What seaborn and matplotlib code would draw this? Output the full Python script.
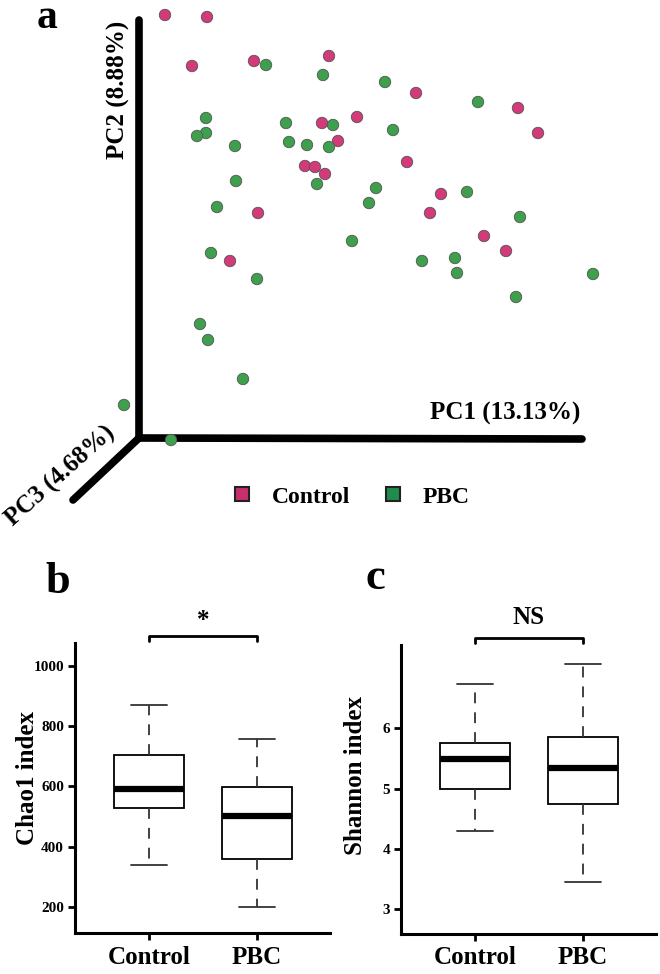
"""
plot.py
PCoA projection (a) and alpha-diversity boxplots (b, c) for Control vs PBC.
"""

import matplotlib
matplotlib.use("Agg")
import matplotlib.pyplot as plt
from matplotlib.lines import Line2D
import numpy as np
import pandas as pd
import seaborn as sns

sns.set_theme(style="white")
plt.rcParams["font.family"] = ["Liberation Serif", "DejaVu Serif"]
plt.rcParams["font.weight"] = "bold"
for key in ["text.color", "axes.labelcolor", "xtick.color", "ytick.color"]:
    plt.rcParams[key] = "black"

W, H = 660, 974

# projected PCoA positions (screen coordinates of the 3D view)
control_x = [165, 207, 192, 254, 329, 416, 518, 538, 322, 357, 338, 305, 315,
             325, 407, 441, 430, 484, 506, 258, 230]
control_y = [15, 17, 66, 61, 56, 93, 108, 133, 123, 117, 141, 166, 167,
             174, 162, 194, 213, 236, 251, 213, 261]
pbc_x = [266, 323, 385, 478, 206, 206, 197, 235, 286, 333, 289, 307, 329, 393,
         317, 236, 376, 369, 467, 217, 520, 352, 422, 455, 457, 593, 516, 211,
         257, 200, 208, 243, 124, 171]
pbc_y = [65, 75, 82, 102, 118, 133, 136, 146, 123, 125, 142, 145, 147, 130,
         184, 181, 188, 203, 192, 207, 217, 241, 261, 258, 273, 274, 297, 253,
         279, 324, 340, 379, 405, 440]

groups = ["Control", "PBC"]
# five-number summaries (min whisker, Q1, median, Q3, max whisker)
chao1_control = [338, 528, 591, 703, 870]
chao1_pbc = [200, 359, 502, 597, 757]
shannon_control = [4.29, 4.99, 5.485, 5.75, 6.74]
shannon_pbc = [3.45, 4.74, 5.335, 5.855, 7.06]

chao1_ticks = [200, 400, 600, 800, 1000]
shannon_ticks = [3, 4, 5, 6]

PINK = "#d23a7a"
GREEN = "#3ea04c"

fig = plt.figure(figsize=(W / 100, H / 100), dpi=100)

# ---- panel a ----
ax_a = fig.add_axes([0, 1 - 540 / H, 1, 540 / H])
pts = pd.DataFrame({
    "x": control_x + pbc_x,
    "y": control_y + pbc_y,
    "group": ["Control"] * len(control_x) + ["PBC"] * len(pbc_x),
})
sns.scatterplot(data=pts, x="x", y="y", hue="group", hue_order=groups,
                palette=[PINK, GREEN], s=68, edgecolor="#555555",
                linewidth=0.6, legend=False, ax=ax_a, zorder=3)
ax_a.set_xlim(0, W)
ax_a.set_ylim(540, 0)
ax_a.axis("off")

# 3D axis frame
origin = (139, 438)
for end in [(139, 20), (582, 439), (73, 500)]:
    ax_a.plot([origin[0], end[0]], [origin[1], end[1]], color="black",
              lw=5.5, solid_capstyle="round", zorder=2)
ax_a.text(118, 90, "PC2 (8.88%)", rotation=90, ha="center", va="center",
          fontsize=18, fontweight="bold")
ax_a.text(505, 413, "PC1 (13.13%)", ha="center", va="center",
          fontsize=18, fontweight="bold")
ax_a.text(61, 476, "PC3 (4.68%)", rotation=42, ha="center", va="center",
          fontsize=18, fontweight="bold")
ax_a.text(47, 28, "a", ha="center", va="baseline", fontsize=30,
          fontweight="bold")

handles = [
    Line2D([], [], marker="s", ls="", markersize=10, markerfacecolor=c,
           markeredgecolor="#222222", markeredgewidth=1.5, label=g)
    for g, c in zip(groups, ["#c92f6e", "#1f8b4d"])
]
fig.legend(handles=handles, loc="center", bbox_to_anchor=(350 / W, 1 - 497 / H),
           ncol=2, frameon=False, prop={"size": 17, "weight": "bold"},
           handletextpad=0.75, columnspacing=1.3, handlelength=1.0)


def box_panel(rect, control, pbc, ylim, ticks, ylabel, label_xy, sig, sig_y,
              letter, letter_x, letter_y):
    ax = fig.add_axes(rect)
    df = pd.DataFrame({
        "group": ["Control"] * len(control) + ["PBC"] * len(pbc),
        "value": control + pbc,
    })
    sns.boxplot(data=df, x="group", y="value", order=groups, width=0.65,
                color="white", linecolor="black", linewidth=1.3, whis=np.inf,
                fliersize=0, ax=ax,
                medianprops={"linewidth": 4.5, "color": "black"},
                whiskerprops={"linestyle": (0, (6, 5)), "color": "#333333"},
                capprops={"color": "#333333"})
    ax.set_xlim(-0.685, 1.676)
    ax.set_ylim(*ylim)
    ax.set_yticks(ticks)
    ax.set_xlabel("")
    ax.set_ylabel(ylabel, fontsize=18, fontweight="bold")
    ax.yaxis.set_label_coords(*label_xy)
    for side in ["top", "right"]:
        ax.spines[side].set_visible(False)
    for side in ["left", "bottom"]:
        ax.spines[side].set_linewidth(2.2)
        ax.spines[side].set_color("black")
    ax.tick_params(axis="both", direction="out", length=5, width=2,
                   color="black", labelcolor="black", left=True, bottom=True)
    ax.tick_params(axis="y", labelsize=11, pad=3)
    ax.tick_params(axis="x", labelsize=18, pad=4)
    for lbl in ax.get_xticklabels() + ax.get_yticklabels():
        lbl.set_fontweight("bold")

    # significance bracket above the axes, between the two group centres
    span = ylim[1] - ylim[0]
    top = ylim[1] + span * 0.024
    leg = ylim[1] + span * 0.006
    ax.plot([0, 0, 1, 1], [leg, top, top, leg], color="black", lw=2,
            clip_on=False)
    mid_x = rect[0] + rect[2] * (0.5 + 0.685) / (1.676 + 0.685)
    fig.text(mid_x, 1 - sig_y / H, sig, ha="center", va="center",
             fontsize=18, fontweight="bold")
    fig.text(letter_x / W, 1 - letter_y / H, letter, ha="center",
             va="baseline", fontsize=32, fontweight="bold")
    return ax


box_panel([75 / W, (H - 933) / H, 255 / W, 290 / H],
          chao1_control, chao1_pbc, (114, 1076), chao1_ticks,
          "Chao1 index", (-0.14, 0.535), "*", 621, "b", 58, 593)
box_panel([401 / W, (H - 934) / H, 255 / W, 289 / H],
          shannon_control, shannon_pbc, (2.585, 7.383), shannon_ticks,
          "Shannon index", (-0.135, 0.55), "NS", 617, "c", 375, 589)

fig.savefig("out.png", dpi=100)
